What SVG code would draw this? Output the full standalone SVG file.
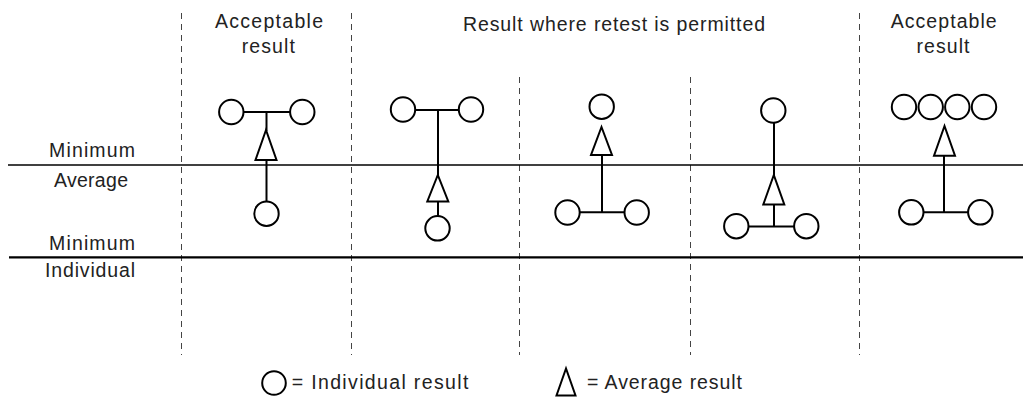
<svg xmlns="http://www.w3.org/2000/svg" width="1023" height="398" viewBox="0 0 1023 398">
  <style>
    .lbl { font-family: "Liberation Sans", Arial, sans-serif; font-size: 19.5px; fill: #222; }
    .mid { text-anchor: middle; }
    .ind { fill: #fff; stroke: #000; stroke-width: 2; }
    .avg { fill: #fff; stroke: #000; stroke-width: 2; stroke-linejoin: miter; }
    .stem { stroke: #000; stroke-width: 2; fill: none; }
    .div { stroke: #444; stroke-width: 1; stroke-dasharray: 6 5; }
  </style>

  <!-- background -->
  <rect width="1023" height="398" fill="#fff"/>

  <!-- column dividers -->
  <g id="dividers">
    <line class="div" x1="181.5" y1="13" x2="181.5" y2="355"/>
    <line class="div" x1="351.5" y1="13" x2="351.5" y2="355"/>
    <line class="div" x1="519.5" y1="77" x2="519.5" y2="355"/>
    <line class="div" x1="690.5" y1="77" x2="690.5" y2="355"/>
    <line class="div" x1="859.5" y1="13" x2="859.5" y2="355"/>
  </g>

  <!-- limit lines -->
  <g id="limits">
    <line x1="8" y1="165" x2="1023" y2="165" stroke="#000" stroke-width="1.3"/>
    <line x1="9" y1="257.3" x2="1023" y2="257.3" stroke="#000" stroke-width="2.2"/>
  </g>

  <!-- axis labels -->
  <g id="axis-labels">
    <text class="lbl mid" x="92" y="156.7" textLength="86" lengthAdjust="spacing">Minimum</text>
    <text class="lbl mid" x="91" y="187" textLength="74" lengthAdjust="spacing">Average</text>
    <text class="lbl mid" x="92" y="250" textLength="86" lengthAdjust="spacing">Minimum</text>
    <text class="lbl mid" x="90" y="277" textLength="90" lengthAdjust="spacing">Individual</text>
  </g>

  <!-- column headings -->
  <g id="headings">
    <text class="lbl mid" x="269" y="28.3" textLength="108" lengthAdjust="spacing">Acceptable</text>
    <text class="lbl mid" x="268.3" y="53.3" textLength="53" lengthAdjust="spacing">result</text>
    <text class="lbl mid" x="614" y="31" textLength="302" lengthAdjust="spacing">Result where retest is permitted</text>
    <text class="lbl mid" x="943.7" y="28.3" textLength="106" lengthAdjust="spacing">Acceptable</text>
    <text class="lbl mid" x="943" y="53.3" textLength="53" lengthAdjust="spacing">result</text>
  </g>

  <!-- stems and bars joining results -->
  <g id="connectors">
    <line class="stem" x1="244" y1="112" x2="290" y2="112"/>
    <line class="stem" x1="266.5" y1="112" x2="266.5" y2="131"/>
    <line class="stem" x1="266.5" y1="160" x2="266.5" y2="201"/>

    <line class="stem" x1="415" y1="110" x2="459" y2="110"/>
    <line class="stem" x1="438" y1="110" x2="438" y2="176"/>
    <line class="stem" x1="438" y1="201.5" x2="438" y2="216"/>

    <line class="stem" x1="602" y1="155" x2="602" y2="212.3"/>
    <line class="stem" x1="579" y1="212.3" x2="625" y2="212.3"/>

    <line class="stem" x1="774" y1="122" x2="774" y2="176"/>
    <line class="stem" x1="774" y1="204.5" x2="774" y2="226.5"/>
    <line class="stem" x1="748" y1="226.5" x2="794" y2="226.5"/>

    <line class="stem" x1="944" y1="155.7" x2="944" y2="212.3"/>
    <line class="stem" x1="923" y1="212.3" x2="968" y2="212.3"/>
  </g>

  <!-- column 1: acceptable -->
  <g id="case-1">
    <circle class="ind" cx="231.3" cy="112" r="12.2"/>
    <circle class="ind" cx="302.3" cy="112" r="12.2"/>
    <polygon class="avg" points="266,130 255.5,160 276.5,160"/>
    <circle class="ind" cx="266.5" cy="213.7" r="12.2"/>
  </g>

  <!-- column 2: retest permitted -->
  <g id="case-2">
    <circle class="ind" cx="403" cy="109.5" r="12.2"/>
    <circle class="ind" cx="471" cy="109.5" r="12.2"/>
    <polygon class="avg" points="437.8,175 427.3,201.5 448.3,201.5"/>
    <circle class="ind" cx="437.5" cy="228.3" r="12.2"/>
  </g>

  <!-- column 3: retest permitted -->
  <g id="case-3">
    <circle class="ind" cx="601.7" cy="106.7" r="12.2"/>
    <polygon class="avg" points="601.5,127 591,155 612,155"/>
    <circle class="ind" cx="567.5" cy="212.5" r="12.2"/>
    <circle class="ind" cx="636.7" cy="212.5" r="12.2"/>
  </g>

  <!-- column 4: retest permitted -->
  <g id="case-4">
    <circle class="ind" cx="773.3" cy="110.5" r="12.2"/>
    <polygon class="avg" points="773.8,175 763.3,204.5 784.3,204.5"/>
    <circle class="ind" cx="736.3" cy="226.2" r="12.2"/>
    <circle class="ind" cx="806.3" cy="226.2" r="12.2"/>
  </g>

  <!-- column 5: acceptable -->
  <g id="case-5">
    <circle class="ind" cx="904" cy="107" r="12.2"/>
    <circle class="ind" cx="930.7" cy="107" r="12.2"/>
    <circle class="ind" cx="957.3" cy="107" r="12.2"/>
    <circle class="ind" cx="984" cy="107" r="12.2"/>
    <polygon class="avg" points="944.5,126 934,155.7 955,155.7"/>
    <circle class="ind" cx="911.3" cy="212.3" r="12.2"/>
    <circle class="ind" cx="980.3" cy="212.3" r="12.2"/>
  </g>

  <!-- legend -->
  <g id="legend">
    <circle class="ind" cx="274" cy="383" r="11.8"/>
    <text class="lbl" x="291.7" y="389" textLength="176.6" lengthAdjust="spacing">= Individual result</text>
    <polygon class="avg" points="566,368.5 556.5,395.5 575.5,395.5"/>
    <text class="lbl" x="587" y="389" textLength="155" lengthAdjust="spacing">= Average result</text>
  </g>
</svg>
